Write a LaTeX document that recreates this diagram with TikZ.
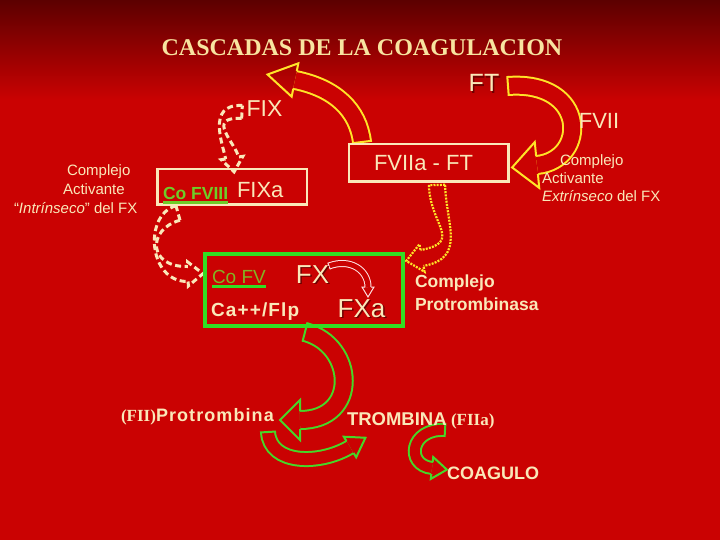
\documentclass[tikz,border=0pt]{standalone}
\usepackage{fontspec}
\setmainfont{Liberation Sans}
\newfontfamily\serifb{Liberation Serif}
\usetikzlibrary{calc}
\definecolor{bgred}{RGB}{202,2,2}
\definecolor{topdark}{RGB}{92,0,0}
\definecolor{cream}{RGB}{250,232,185}
\definecolor{titlecol}{RGB}{248,228,160}
\definecolor{ayellow}{RGB}{255,228,40}
\definecolor{agreen}{RGB}{70,215,40}
\definecolor{gbox}{RGB}{50,222,35}
\definecolor{covgreen}{RGB}{110,205,40}
\definecolor{cofvgreen}{RGB}{130,180,35}
\definecolor{pinkwhite}{RGB}{255,225,225}
\definecolor{shadowred}{RGB}{110,0,0}
% hollow block arrow (filled band): #1 style, #2 start, #3 c1, #4 c2, #5 head base, #6 half width, #7 head half width, #8 head length, #9 outline width
\newcommand\barrow[9]{%
 \pgfmathsetmacro\baO{2*#6+2*#9}%
 \pgfmathsetmacro\baI{2*#6}%
 \pgfmathsetmacro\baE{#6+#9/2}%
 \pgfmathsetmacro\baT{#6+#9}%
 \begin{scope}[#1]
  \draw[line width=\baO pt] (#2) .. controls (#3) and (#4) .. (#5);
  \draw[draw=bgred, line width=\baI pt] (#2) .. controls (#3) and (#4) .. (#5);
  \draw[line width=#9pt, line join=miter] ($(#5)!\baE pt!90:(#4)$) -- ($(#5)!#7pt!90:(#4)$) -- ($(#5)!-#8pt!(#4)$) -- ($(#5)!#7pt!-90:(#4)$) -- ($(#5)!\baE pt!-90:(#4)$);
  \draw[line width=#9pt] ($(#2)!\baT pt!90:(#3)$) -- ($(#2)!\baT pt!-90:(#3)$);
 \end{scope}}
% outlined block arrow (edges only, for dashed/dotted outlines)
\newcommand\darrow[9]{%
 \pgfmathsetmacro\baE{#6+#9/2}%
 \begin{scope}[#1, line width=#9pt]
  \draw ($(#2)!\baE pt!90:(#3)$) .. controls ($(#3)!\baE pt!-90:(#2)$) and ($(#4)!\baE pt!90:(#5)$) .. ($(#5)!\baE pt!-90:(#4)$);
  \draw ($(#2)!\baE pt!-90:(#3)$) .. controls ($(#3)!\baE pt!90:(#2)$) and ($(#4)!\baE pt!-90:(#5)$) .. ($(#5)!\baE pt!90:(#4)$);
  \draw[line join=miter] ($(#5)!\baE pt!90:(#4)$) -- ($(#5)!#7pt!90:(#4)$) -- ($(#5)!-#8pt!(#4)$) -- ($(#5)!#7pt!-90:(#4)$) -- ($(#5)!\baE pt!-90:(#4)$);
  \draw ($(#2)!\baE pt!90:(#3)$) -- ($(#2)!\baE pt!-90:(#3)$);
 \end{scope}}
\tikzset{
 txt/.style={inner sep=0pt, outer sep=0pt, text=cream},
 fs/.style={font=\fontsize{#1}{#1}\selectfont},
 boxc/.style={draw=cream, line width=2.5pt, inner sep=0pt},
 uline/.style={line width=2.5pt}
}
\begin{document}
\begin{tikzpicture}[x=1pt,y=-1pt]
\useasboundingbox (0,0) rectangle (720,540);
\fill[bgred] (0,0) rectangle (720,540);
\shade[top color=topdark, bottom color=bgred] (0,0) rectangle (720,100);

% arrows
\barrow{draw=ayellow}{362,142}{358,110}{335,88}{295,80}{8}{17}{28}{2}
\barrow{draw=ayellow}{508,86}{588,80}{588,160}{537,165}{8}{23}{25}{2}
\darrow{draw=ayellow, dash pattern=on 2pt off 1.2pt}{437,185}{438,225}{465,250}{422,258}{7}{14}{16}{2.2}
\darrow{draw=cream, dash pattern=on 6pt off 3.5pt}{242,112}{205,110}{230,145}{232,158}{5}{11}{14}{3}
\darrow{draw=cream, dash pattern=on 6pt off 3.5pt}{178,213}{145,222}{148,275}{188,274}{6}{12}{15}{3}
\barrow{draw=agreen}{305,332}{355,345}{360,420}{300,420}{8}{20}{20}{2}
\barrow{draw=agreen}{268,432}{270,465}{320,465}{350,447}{6}{12}{18}{2}
\barrow{draw=agreen}{445,430}{410,428}{405,465}{432,468}{5}{11}{15}{2}
\barrow{draw=pinkwhite}{329,266}{350,258}{368,270}{368,287}{2.5}{6}{10}{1}

% boxes
\node[boxc, minimum width=159.5pt, minimum height=37.5pt] (boxft) at (428.5,163) {};
\node[boxc, minimum width=149.5pt, minimum height=35.5pt] (boxfixa) at (232,187) {};
\node[draw=gbox, line width=4pt, inner sep=0pt, minimum width=198pt, minimum height=72pt] (boxgreen) at (304,290) {};

% title
\node[txt, text=titlecol, anchor=base, font=\serifb\bfseries\fontsize{24}{24}\selectfont] (title) at (362,56) {CASCADAS DE LA COAGULACION};

% factors
\node[txt, text=shadowred, anchor=base, fs=25] (ftsh) at (485.5,93.5) {FT};
\node[txt, anchor=base, fs=25] (ft) at (484,92) {FT};
\node[txt, anchor=base, fs=23] (fix) at (264.5,117) {FIX};
\node[txt, anchor=base, fs=22] (fvii) at (599,129) {FVII};
\node[txt, anchor=base, fs=22] (fviiaft) at (423.5,171) {FVIIa - FT};

% right description
\node[txt, anchor=base west, fs=15] (rd1) at (560,166) {Complejo};
\node[txt, anchor=base west, fs=15] (rd2) at (542,184) {Activante};
\node[txt, anchor=base west, fs=15] (rd3) at (542,202) {\itshape Extrínseco\upshape\ del FX};

% left description
\node[txt, anchor=base west, fs=15] (ld1) at (67,176) {Complejo};
\node[txt, anchor=base west, fs=15] (ld2) at (63,195) {Activante};
\node[txt, anchor=base west, fs=15] (ld3) at (14,214) {“\itshape Intrínseco\upshape” del FX};

% FIXa box content
\node[txt, text=covgreen, anchor=base west, font=\bfseries\fontsize{17.5}{17.5}\selectfont] (cofviii) at (163,200) {Co FVIII};
\draw[covgreen, uline] ([yshift=-2.5pt]cofviii.base west) -- ([yshift=-2.5pt]cofviii.base east);
\node[txt, anchor=base west, fs=22] (fixa) at (237,198) {FIXa};

% green box content
\node[txt, text=cofvgreen, anchor=base west, fs=19] (cofv) at (212,283) {Co FV};
\draw[gbox, line width=3pt] ([yshift=-3.5pt]cofv.base west) -- ([yshift=-3.5pt]cofv.base east);
\node[txt, text=shadowred, anchor=base, fs=26] (fxsh) at (314,284.5) {FX};
\node[txt, anchor=base, fs=26] (fx) at (312.5,283) {FX};
\node[txt, anchor=base west, font=\bfseries\fontsize{19}{19}\selectfont\addfontfeature{LetterSpace=6}] (caflp) at (211,316) {Ca++/Flp};
\node[txt, text=shadowred, anchor=base, fs=26] (fxash) at (363,318.5) {FXa};
\node[txt, anchor=base, fs=26] (fxa) at (361.5,317) {FXa};

% prothrombinase
\node[txt, anchor=base west, font=\bfseries\fontsize{17.5}{17.5}\selectfont] (cp1) at (415,287) {Complejo};
\node[txt, anchor=base west, font=\bfseries\fontsize{17.5}{17.5}\selectfont] (cp2) at (415,310) {Protrombinasa};

% bottom
\node[txt, anchor=base east, font=\serifb\bfseries\fontsize{17}{17}\selectfont] (fii) at (156,421) {(FII)};
\node[txt, anchor=base west, font=\bfseries\fontsize{18}{18}\selectfont\addfontfeature{LetterSpace=6}] (protr) at (156,421) {Protrombina};
\node[txt, anchor=base west, font=\bfseries\fontsize{18.5}{18.5}\selectfont] (tromb) at (347,425) {TROMBINA};
\node[txt, anchor=base west, font=\serifb\bfseries\fontsize{17}{17}\selectfont] (fiia) at (451,425) {(FIIa)};
\node[txt, anchor=base west, font=\bfseries\fontsize{18}{18}\selectfont] (coag) at (447,479) {COAGULO};
\end{tikzpicture}
\end{document}
